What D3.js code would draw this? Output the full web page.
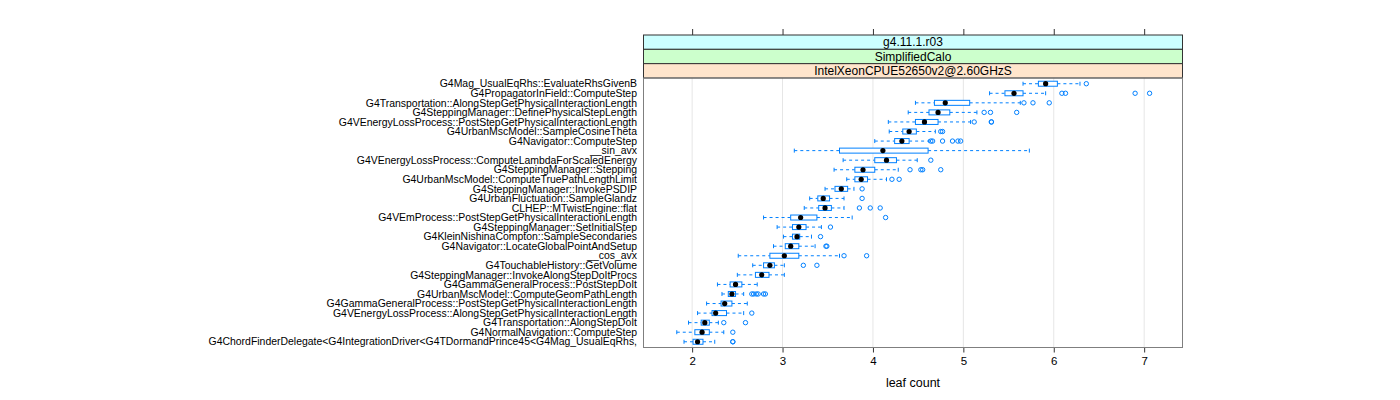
<!DOCTYPE html>
<html><head><meta charset="utf-8">
<script src="https://cdn.jsdelivr.net/npm/d3@7"></script>
<style>body{margin:0;background:#fff}svg{display:block}text{font-family:"Liberation Sans",Arial,sans-serif}</style>
</head><body>
<svg id="c" width="1400" height="400"></svg>
<script>
const categories = [
"G4Mag_UsualEqRhs::EvaluateRhsGivenB",
"G4PropagatorInField::ComputeStep",
"G4Transportation::AlongStepGetPhysicalInteractionLength",
"G4SteppingManager::DefinePhysicalStepLength",
"G4VEnergyLossProcess::PostStepGetPhysicalInteractionLength",
"G4UrbanMscModel::SampleCosineTheta",
"G4Navigator::ComputeStep",
"__sin_avx",
"G4VEnergyLossProcess::ComputeLambdaForScaledEnergy",
"G4SteppingManager::Stepping",
"G4UrbanMscModel::ComputeTruePathLengthLimit",
"G4SteppingManager::InvokePSDIP",
"G4UrbanFluctuation::SampleGlandz",
"CLHEP::MTwistEngine::flat",
"G4VEmProcess::PostStepGetPhysicalInteractionLength",
"G4SteppingManager::SetInitialStep",
"G4KleinNishinaCompton::SampleSecondaries",
"G4Navigator::LocateGlobalPointAndSetup",
"__cos_avx",
"G4TouchableHistory::GetVolume",
"G4SteppingManager::InvokeAlongStepDoItProcs",
"G4GammaGeneralProcess::PostStepDoIt",
"G4UrbanMscModel::ComputeGeomPathLength",
"G4GammaGeneralProcess::PostStepGetPhysicalInteractionLength",
"G4VEnergyLossProcess::AlongStepGetPhysicalInteractionLength",
"G4Transportation::AlongStepDoIt",
"G4NormalNavigation::ComputeStep",
"G4ChordFinderDelegate<G4IntegrationDriver<G4TDormandPrince45<G4Mag_UsualEqRhs,"
];
const whiskerLow  = [5.66,5.29,4.47,4.39,4.17,4.18,4.02,3.13,3.67,3.57,3.71,3.47,3.30,3.24,2.79,2.94,3.01,2.90,2.51,2.67,2.50,2.28,2.33,2.16,2.06,1.96,1.83,1.91];
const q1          = [5.83,5.46,4.68,4.62,4.47,4.33,4.24,3.63,4.02,3.80,3.80,3.58,3.39,3.40,3.09,3.11,3.11,3.03,2.86,2.79,2.70,2.42,2.40,2.32,2.22,2.10,2.03,2.01];
const median      = [5.91,5.56,4.80,4.72,4.57,4.40,4.32,4.11,4.15,3.89,3.87,3.65,3.45,3.47,3.20,3.18,3.16,3.09,3.02,2.86,2.77,2.48,2.44,2.36,2.26,2.14,2.11,2.06];
const q3          = [6.04,5.66,5.07,4.85,4.72,4.48,4.40,4.61,4.26,4.02,3.94,3.72,3.52,3.54,3.38,3.26,3.19,3.18,3.18,2.91,2.85,2.55,2.48,2.44,2.38,2.19,2.19,2.12];
const whiskerHigh = [6.29,5.91,5.63,5.15,5.08,4.69,4.62,5.73,4.49,4.28,4.15,3.79,3.68,3.68,3.77,3.43,3.32,3.36,3.63,3.02,3.02,2.72,2.57,2.61,2.57,2.29,2.35,2.25];
const outliers = [
 [6.36],
 [6.09,6.13,6.90,7.06],
 [5.67,5.77,5.95],
 [5.23,5.30,5.59],
 [5.12,5.31,5.31],
 [4.75,4.77],
 [4.64,4.66,4.77,4.88,4.94,4.97],
 [],
 [4.64],
 [4.41,4.53,4.55,4.75],
 [4.21,4.29],
 [3.88],
 [3.88],
 [3.85,3.97,4.08],
 [4.14],
 [3.53],
 [3.42],
 [3.48,3.49],
 [3.68,3.93],
 [3.23,3.38],
 [],
 [],
 [2.66,2.68,2.71,2.73,2.79,2.81],
 [],
 [2.66],
 [2.35,2.59],
 [2.45],
 [2.45,2.45]
];
const xTicks = [2,3,4,5,6,7];
const stripLabels = ["g4.11.1.r03","SimplifiedCalo","IntelXeonCPUE52650v2@2.60GHzS"];
const stripColors = ["#ccffff","#ccffcc","#ffe5cc"];
const xLabel = "leaf count";

const svg = d3.select("#c");
const L = 643.5, R = 1182.5, stripTop = 35, stripH = 14.33, pTop = stripTop + 3*stripH, pBot = 347.5;
const x = d3.scaleLinear().domain([1.462, 7.424]).range([L, R]);
const n = categories.length;
const y = d3.scaleLinear().domain([0.4, n + 0.6]).range([pTop, pBot]);
const blue = "#0080ff";

// grid
svg.append("g").selectAll("line").data(xTicks).join("line")
  .attr("x1", d => x(d)).attr("x2", d => x(d)).attr("y1", pTop).attr("y2", pBot)
  .attr("stroke", "#e6e6e6").attr("stroke-width", 1);

// strips
stripLabels.forEach((s, i) => {
  const yy = stripTop + i * stripH;
  svg.append("rect").attr("x", L).attr("y", yy).attr("width", R - L).attr("height", stripH)
    .attr("fill", stripColors[i]).attr("stroke", "#333").attr("stroke-width", 1);
  svg.append("text").attr("x", (L + R) / 2).attr("y", yy + stripH / 2 + 4.3)
    .attr("text-anchor", "middle").attr("font-size", 12).attr("fill", "#000").text(s);
});

// axes
const bottomAxis = d3.axisBottom(x).tickValues(xTicks).tickSize(5).tickPadding(4).tickFormat(d3.format("d"));
const gb = svg.append("g").attr("transform", `translate(0,${pBot})`).call(bottomAxis);
gb.select(".domain").remove();
gb.selectAll("line").attr("stroke", "#333");
gb.selectAll("text").attr("font-size", 11.5).attr("fill", "#000").attr("font-family", "Liberation Sans, Arial");
const topAxis = d3.axisTop(x).tickValues(xTicks).tickSize(6).tickFormat("");
const gt = svg.append("g").attr("transform", `translate(0,${stripTop})`).call(topAxis);
gt.select(".domain").remove();
gt.selectAll("line").attr("stroke", "#333");

// panel frame
svg.append("rect").attr("x", L).attr("y", pTop).attr("width", R - L).attr("height", pBot - pTop)
  .attr("fill", "none").attr("stroke", "#7f7f7f").attr("stroke-width", 1);

// y labels
svg.append("g").selectAll("text").data(categories).join("text")
  .attr("x", 637).attr("y", (d, i) => y(i + 1) + 3.7).attr("text-anchor", "end")
  .attr("font-size", 10.45).attr("fill", "#000").text(d => d);

// boxes
const bh = 5, cap = 2;
const g = svg.append("g");
categories.forEach((c, i) => {
  const cy = y(i + 1);
  g.append("line").attr("x1", x(whiskerLow[i])).attr("x2", x(q1[i])).attr("y1", cy).attr("y2", cy)
    .attr("stroke", blue).attr("stroke-dasharray", "3,3");
  g.append("line").attr("x1", x(q3[i])).attr("x2", x(whiskerHigh[i])).attr("y1", cy).attr("y2", cy)
    .attr("stroke", blue).attr("stroke-dasharray", "3,3");
  [whiskerLow[i], whiskerHigh[i]].forEach(v => g.append("line")
    .attr("x1", x(v)).attr("x2", x(v)).attr("y1", cy - cap).attr("y2", cy + cap).attr("stroke", blue));
  g.append("rect").attr("x", x(q1[i])).attr("y", cy - bh / 2).attr("width", x(q3[i]) - x(q1[i])).attr("height", bh)
    .attr("fill", "#fff").attr("stroke", blue).attr("stroke-width", 1);
  g.append("circle").attr("cx", x(median[i])).attr("cy", cy).attr("r", 2.6).attr("fill", "#000");
  outliers[i].forEach(v => g.append("circle").attr("cx", x(v)).attr("cy", cy).attr("r", 2.2)
    .attr("fill", "none").attr("stroke", blue).attr("stroke-width", 1));
});

svg.append("text").attr("x", (L + R) / 2).attr("y", 387).attr("text-anchor", "middle")
  .attr("font-size", 12.5).attr("fill", "#000").text(xLabel);
</script>
</body></html>
